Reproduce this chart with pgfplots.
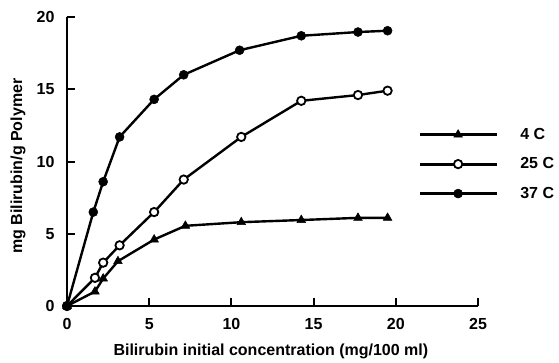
\documentclass[border=0pt]{standalone}
\usepackage{pgfplots}
\pgfplotsset{compat=1.18}
\usepackage{fontspec}
\setmainfont{Liberation Sans}
\begin{document}
\begin{tikzpicture}
\begin{axis}[
  scale only axis, width=411pt, height=289pt,
  xmin=0, xmax=25, ymin=0, ymax=20,
  axis lines=left, axis line style={-, line width=2.4pt},
  xtick={0,5,10,15,20,25}, ytick={0,5,10,15,20},
  tick align=inside, major tick length=8pt,
  tick style={line width=2pt, black},
  font=\fontsize{16}{18}\selectfont\bfseries,
  /pgf/number format/assume math mode=true,
  ticklabel style={font=\fontsize{16}{18}\selectfont\bfseries},
  yticklabel style={xshift=-9pt},
  xticklabel style={yshift=-9pt},
  xlabel={Bilirubin initial concentration (mg/100 ml)},
  ylabel={mg Bilirubin/g Polymer},
  xlabel style={font=\fontsize{16}{18}\selectfont\bfseries, at={(axis description cs:0.496,-0.156)}, anchor=center},
  ylabel style={font=\fontsize{16}{18}\selectfont\bfseries, at={(axis description cs:-0.119,0.484)}, anchor=center},
  clip=false,
  legend style={at={(0.855,0.491)}, anchor=west, draw=none, fill=none,
    font=\fontsize{16}{18}\selectfont\bfseries, row sep=12.8pt, inner xsep=0pt},
  legend cell align=left,
  legend image code/.code={\draw[#1,mark=none,line width=3pt] (0pt,0pt) -- (77pt,0pt); \draw[#1,only marks] plot coordinates {(38pt,0pt)}; \path (97pt,0pt);},
  every axis plot/.append style={line width=2.4pt, black},
]
\addplot[line width=2.4pt, mark=triangle*, mark size=5pt, mark options={solid, line width=0.5pt}] coordinates {
(0,0) (1.7,1.0) (2.2,1.9) (3.1,3.1) (5.3,4.6) (7.2,5.55) (10.6,5.8) (14.25,5.95) (17.7,6.1) (19.5,6.1)};
\addlegendentry{4 C}
\addplot[line width=2.4pt, mark=*, mark size=4.2pt, mark options={solid, fill=white, line width=1.8pt}] coordinates {
(0,0) (1.7,1.95) (2.2,3.0) (3.2,4.2) (5.3,6.5) (7.1,8.75) (10.6,11.7) (14.25,14.2) (17.7,14.6) (19.5,14.9)};
\addlegendentry{25 C}
\addplot[line width=2.4pt, mark=*, mark size=4.5pt, mark options={solid, line width=0.5pt}] coordinates {
(0,0) (1.6,6.5) (2.2,8.6) (3.2,11.7) (5.3,14.3) (7.1,16.0) (10.5,17.7) (14.25,18.7) (17.7,18.96) (19.5,19.05)};
\addlegendentry{37 C}
\end{axis}
\pgfresetboundingbox
\path[use as bounding box] (-67pt,-56pt) rectangle (492pt,306pt);
\end{tikzpicture}
\end{document}
